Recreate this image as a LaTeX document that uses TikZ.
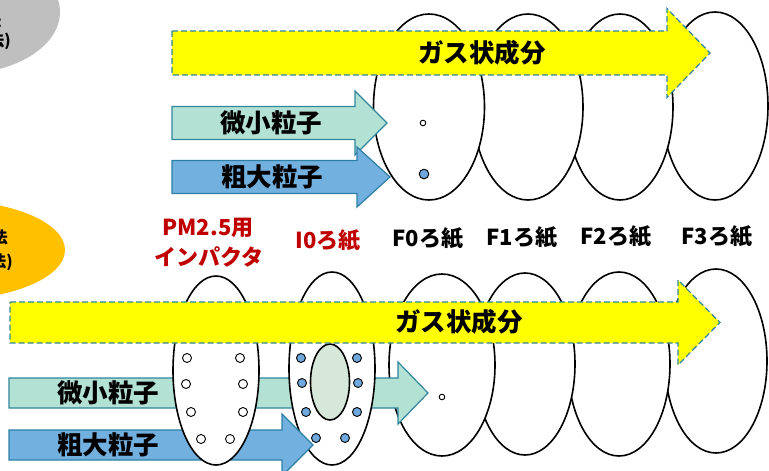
\documentclass[tikz,border=0pt]{standalone}
\usepackage{fontspec}
\newfontfamily\jp{Noto Sans CJK JP}
\definecolor{dashc}{HTML}{31859C}
\definecolor{yel}{HTML}{FFFF00}
\definecolor{mint}{HTML}{B3E2D5}
\definecolor{bluef}{HTML}{72B0E0}
\definecolor{bluee}{HTML}{2E7FA6}
\definecolor{redt}{HTML}{C00000}
\definecolor{orng}{HTML}{FFC000}
\definecolor{grayf}{HTML}{BFBFBF}
\definecolor{innerg}{HTML}{D5E8D9}
\definecolor{dotb}{HTML}{6FA8DC}
% #1 style, #2 x start, #3 head base x, #4 tip x, #5 center y, #6 half body, #7 half head
\newcommand{\blockarrow}[7][]{%
  \path[#1] (#2,#5-#6) -- (#3,#5-#6) -- (#3,#5-#7) -- (#4,#5) -- (#3,#5+#7) -- (#3,#5+#6) -- (#2,#5+#6) -- cycle;}
\tikzset{
  filt/.style={draw=black, line width=1.6pt, fill=white},
  gasarrow/.style={fill=yel, draw=dashc, line width=1.2pt, dash pattern=on 6pt off 3pt},
  fine/.style={fill=mint, draw=dashc, line width=1.2pt},
  coarse/.style={fill=bluef, draw=bluee, line width=1.2pt},
  lbl/.style={font=\jp\bfseries\fontsize{25.5}{28}\selectfont, inner sep=0pt},
  flab/.style={font=\jp\bfseries\fontsize{22}{24}\selectfont, inner sep=0pt},
  side/.style={anchor=east, font=\jp\bfseries\fontsize{16}{18}\selectfont, inner sep=0pt},
  dotw/.style={draw=black, line width=0.9pt, fill=white},
  dotbl/.style={draw=black, line width=0.9pt, fill=dotb},
}
\begin{document}
\begin{tikzpicture}[x=1pt,y=-1pt]
\useasboundingbox (0,0) rectangle (769,471);
\clip (0,0) rectangle (769,471);
% side ellipses
\fill[grayf] (-40,12) ellipse [x radius=100, y radius=62];
\node[side] (gl1) at (1.5,20) {従来法};
\node[side] (gl2) at (11,41) {(ろ紙法)};
\fill[orng] (-55,250) ellipse [x radius=120, y radius=50];
\node[side] (ol1) at (8,237) {新手法};
\node[side] (ol2) at (13,262) {(インパクタ法)};

% ===== top row =====
\draw[filt] (715,106) ellipse [x radius=53, y radius=94];
\draw[filt] (620,107) ellipse [x radius=53, y radius=93];
\draw[filt] (528,107) ellipse [x radius=55, y radius=93];
\draw[filt] (429,107) ellipse [x radius=55.5, y radius=93];
\draw[dotw] (423,123) circle (2.8);
\draw[dotbl] (424,174) circle (4.8);
\blockarrow[gasarrow]{172}{667}{710}{53}{22}{44.5}
\node[lbl] (gas1) at (482,53) {ガス状成分};
\blockarrow[fine]{172}{355}{387}{123}{16.5}{32}
\node[lbl] (fine1) at (271,123) {微小粒子};
\blockarrow[coarse]{172}{357}{390}{177}{16.5}{30}
\node[lbl] (coarse1) at (272,177) {粗大粒子};

% labels
\node[flab, text=redt] (pm) at (208,228) {PM2.5用};
\node[flab, text=redt] (imp) at (209,257) {インパクタ};
\node[flab, text=redt] (i0) at (328,240) {I0ろ紙};
\node[flab] (f0) at (428,238) {F0ろ紙};
\node[flab] (f1) at (522,237) {F1ろ紙};
\node[flab] (f2) at (616,236) {F2ろ紙};
\node[flab] (f3) at (717,236) {F3ろ紙};

% ===== bottom row =====
\draw[filt] (716,361) ellipse [x radius=51, y radius=92];
\draw[filt] (619,364) ellipse [x radius=51, y radius=92];
\draw[filt] (525,364) ellipse [x radius=50, y radius=91];
\draw[filt] (442,365) ellipse [x radius=53, y radius=91];
\draw[dotw] (442,397) circle (2.8);
\blockarrow[fine]{9}{398}{428}{393}{15}{31}
\node[lbl] (fine2) at (108,393) {微小粒子};
% I0 filter
\draw[filt] (332,368.5) ellipse [x radius=43, y radius=96.5];
\draw[filt, fill=innerg] (330,382) ellipse [x radius=19.5, y radius=38];
\blockarrow[coarse]{9}{282}{313}{445}{15}{31}
\node[lbl] (coarse2) at (108,445) {粗大粒子};
\foreach \p in {(301,358),(357,358),(302,383),(358,383),(306,412),(357,412),(316,438),(345,438)}
  \draw[dotbl] \p circle (4.5);
% impactor
\draw[filt] (216,370.5) ellipse [x radius=43, y radius=94.5];
\foreach \p in {(187,358),(240,358),(186,384),(243,384),(191,412),(243,412),(201,439),(230,439)}
  \draw[dotw] \p circle (4.5);
\blockarrow[gasarrow]{10}{678}{720}{322.5}{20.5}{42.5}
\node[lbl] (gas2) at (459,322) {ガス状成分};
\end{tikzpicture}
\end{document}
